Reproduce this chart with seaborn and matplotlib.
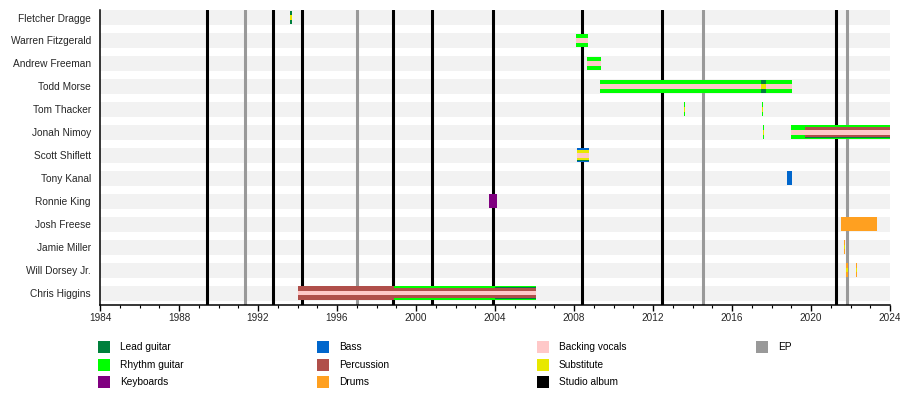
import matplotlib
matplotlib.use("Agg")
import matplotlib.pyplot as plt
import seaborn as sns
import numpy as np
from matplotlib.patches import Rectangle

# ---------------- data ----------------
members = ["Fletcher Dragge", "Warren Fitzgerald", "Andrew Freeman", "Todd Morse",
           "Tom Thacker", "Jonah Nimoy", "Scott Shiflett", "Tony Kanal",
           "Ronnie King", "Josh Freese", "Jamie Miller", "Will Dorsey Jr.", "Chris Higgins"]

seg_member = ["Fletcher Dragge", "Fletcher Dragge",
              "Warren Fitzgerald", "Warren Fitzgerald",
              "Andrew Freeman", "Andrew Freeman",
              "Todd Morse", "Todd Morse", "Todd Morse", "Todd Morse",
              "Tom Thacker", "Tom Thacker", "Tom Thacker", "Tom Thacker",
              "Jonah Nimoy", "Jonah Nimoy", "Jonah Nimoy", "Jonah Nimoy", "Jonah Nimoy", "Jonah Nimoy",
              "Scott Shiflett", "Scott Shiflett", "Scott Shiflett", "Scott Shiflett",
              "Tony Kanal",
              "Ronnie King",
              "Josh Freese",
              "Jamie Miller", "Jamie Miller",
              "Will Dorsey Jr.", "Will Dorsey Jr.", "Will Dorsey Jr.", "Will Dorsey Jr.",
              "Chris Higgins", "Chris Higgins", "Chris Higgins", "Chris Higgins", "Chris Higgins"]
seg_start = [1993.64, 1993.64,
             2008.10, 2008.10,
             2008.65, 2008.65,
             2009.30, 2017.48, 2009.30, 2017.48,
             2013.55, 2013.55, 2017.50, 2017.50,
             2017.55, 2017.55, 2018.97, 2019.70, 2019.70, 2018.97,
             2008.15, 2008.15, 2008.15, 2008.15,
             2018.78,
             2003.70,
             2021.52,
             2021.66, 2021.66,
             2021.79, 2021.79, 2022.26, 2022.26,
             1994.00, 1998.90, 2004.00, 1998.90, 1994.00]
seg_end = [1993.72, 1993.72,
           2008.72, 2008.72,
           2009.37, 2009.37,
           2019.02, 2017.70, 2019.02, 2017.70,
           2013.63, 2013.63, 2017.58, 2017.58,
           2017.64, 2017.64, 2024.00, 2024.00, 2024.00, 2024.00,
           2008.74, 2008.74, 2008.74, 2008.74,
           2019.05,
           2004.10,
           2023.36,
           2021.73, 2021.73,
           2021.86, 2021.86, 2022.33, 2022.33,
           1998.90, 2006.10, 2006.10, 2006.10, 2006.10]
seg_role = ["Lead guitar", "Substitute",
            "Rhythm guitar", "Backing vocals",
            "Rhythm guitar", "Backing vocals",
            "Rhythm guitar", "Lead guitar", "Backing vocals", "Substitute",
            "Rhythm guitar", "Substitute", "Rhythm guitar", "Substitute",
            "Rhythm guitar", "Substitute", "Rhythm guitar", "Lead guitar", "Percussion", "Backing vocals",
            "Bass", "Lead guitar", "Substitute", "Backing vocals",
            "Bass",
            "Keyboards",
            "Drums",
            "Drums", "Substitute",
            "Drums", "Substitute", "Drums", "Substitute",
            "Percussion", "Rhythm guitar", "Lead guitar", "Percussion", "Backing vocals"]
seg_layer = [0, 3,
             0, 3,
             0, 3,
             0, 0, 3, 3,
             0, 3, 0, 3,
             0, 3, 0, 1, 2, 3,
             0, 1, 2, 3,
             0,
             0,
             0,
             0, 3,
             0, 3, 0, 3,
             0, 0, 1, 2, 3]

studio_albums = [1989.43, 1992.78, 1994.25, 1998.85, 2000.83, 2003.92, 2008.43, 2012.47, 2021.25]
eps = [1991.36, 1997.03, 2014.55, 2021.84]

legend_roles = ["Lead guitar", "Rhythm guitar", "Keyboards", "Bass", "Percussion", "Drums",
                "Backing vocals", "Substitute", "Studio album", "EP"]

# ---------------- style ----------------
role_colors = {
    "Lead guitar": "#00803c",
    "Rhythm guitar": "#00ff00",
    "Keyboards": "#800080",
    "Bass": "#0066cc",
    "Percussion": "#b04f4a",
    "Drums": "#ffa020",
    "Backing vocals": "#ffc8c8",
    "Substitute": "#e8e800",
    "Studio album": "#000000",
    "EP": "#999999",
}
layer_height = {0: 0.60, 1: 0.50, 2: 0.42, 3: 0.20}

sns.set_theme(style="white")
plt.rcParams["font.family"] = ["Liberation Sans", "DejaVu Sans"]

fig = plt.figure(figsize=(9, 3.98), dpi=100)
ax = fig.add_axes([100 / 900, 93 / 398, 790 / 900, 295 / 398])

# background row bands (seaborn horizontal bars)
sns.barplot(x=[2024.0] * len(members), y=members, orient="h", color="#f2f2f2",
            width=0.65, saturation=1, ax=ax, zorder=0, linewidth=0)

row_index = {m: i for i, m in enumerate(members)}

# album lines
for x in studio_albums:
    ax.axvline(x, color=role_colors["Studio album"], lw=2.2, zorder=1)
for x in eps:
    ax.axvline(x, color=role_colors["EP"], lw=2.2, zorder=1)

# member bars, drawn wide to narrow
order = sorted(range(len(seg_member)), key=lambda k: seg_layer[k])
for k in order:
    ax.barh(row_index[seg_member[k]], seg_end[k] - seg_start[k], left=seg_start[k],
            height=layer_height[seg_layer[k]], color=role_colors[seg_role[k]],
            linewidth=0, zorder=2 + seg_layer[k])

ax.set_xlim(1984, 2024)
ax.set_ylim(len(members) - 0.48, -0.327)
ax.set_xlabel("")
ax.set_ylabel("")
ax.set_xticks(np.arange(1984, 2025, 4))
ax.set_xticks(np.arange(1984, 2025, 1), minor=True)
ax.tick_params(axis="x", which="major", direction="out", length=4, width=1, color="black",
               labelsize=7.2, pad=2, bottom=True)
ax.tick_params(axis="x", which="minor", direction="out", length=2.5, width=0.8, color="black",
               bottom=True)
ax.tick_params(axis="y", length=0, labelsize=7.3, pad=6.5)
for s in ["top", "right"]:
    ax.spines[s].set_visible(False)
for s in ["left", "bottom"]:
    ax.spines[s].set_visible(True)
    ax.spines[s].set_color("black")
    ax.spines[s].set_linewidth(1.1)
ax.grid(False)

# legend, laid out in columns like the original
col_x = [98, 317, 537, 756]
row_y = [347, 365, 382]
slots = [(0, 0), (0, 1), (0, 2), (1, 0), (1, 1), (1, 2), (2, 0), (2, 1), (2, 2), (3, 0)]
for role, (c, r) in zip(legend_roles, slots):
    x0 = col_x[c]
    yc = row_y[r]
    fig.add_artist(Rectangle((x0 / 900, (398 - yc - 6) / 398), 12 / 900, 12 / 398,
                             transform=fig.transFigure, facecolor=role_colors[role],
                             edgecolor="none"))
    fig.text((x0 + 22) / 900, (398 - yc) / 398, role, fontsize=7.3, va="center",
             ha="left", color="black")

fig.savefig("out.png", dpi=100)
